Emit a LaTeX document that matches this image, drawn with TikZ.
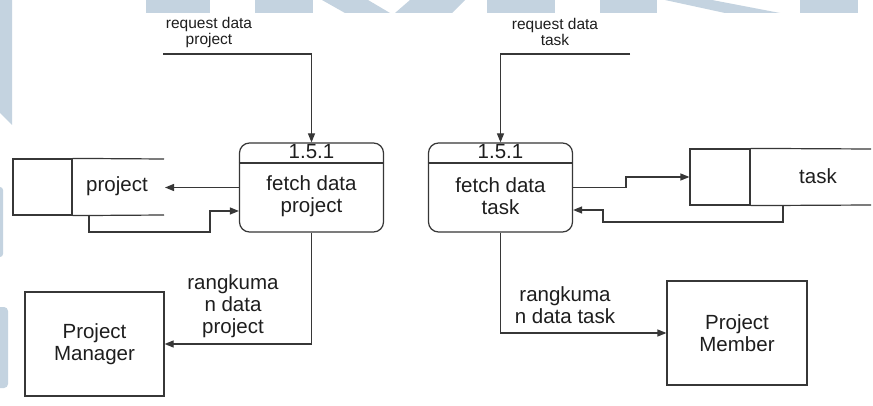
\documentclass[tikz,border=0pt]{standalone}
\usepackage{fontspec}
\setmainfont{Liberation Sans}
\usetikzlibrary{arrows.meta}
\definecolor{wm}{RGB}{196,211,224}
\definecolor{ln}{RGB}{55,55,55}
\definecolor{tx}{RGB}{30,30,30}
\tikzset{
  ln/.style={draw=ln, line width=1.2pt},
  arr/.style={ln, -{Triangle[length=9pt,width=7pt]}},
  proc/.style={ln, rectangle, rounded corners=10pt, minimum width=144pt, minimum height=89pt, inner sep=0pt},
  ext/.style={ln, rectangle, inner sep=0pt},
  lab/.style={text=tx, align=center, inner sep=0pt, font=\fontsize{20.5}{22}\selectfont},
  small/.style={text=tx, align=center, inner sep=0pt, font=\fontsize{15.5}{16}\selectfont},
  wmark/.style={fill=wm, draw=none}
}
\begin{document}
\begin{tikzpicture}[x=1pt,y=-1pt]
\useasboundingbox (0,0) rectangle (873,406);
\fill[white] (0,0) rectangle (873,406);
% watermark
\fill[wmark] (0,0) -- (12,0) -- (12,125) -- (0,113) -- cycle;
\fill[wmark, rounded corners=3pt] (-5,187) rectangle (3,257);
\fill[wmark, rounded corners=4pt] (-5,307) rectangle (8,388);
\fill[wmark] (146,0) rectangle (210,13);
\fill[wmark] (255,0) rectangle (313,13);
\fill[wmark] (322,0) -- (368,0) -- (390,13) -- (345,13) -- cycle;
\fill[wmark] (410,0) -- (465,0) -- (452,13) -- (395,13) -- cycle;
\fill[wmark] (487,0) rectangle (555,13);
\fill[wmark] (600,0) rectangle (657,13);
\fill[wmark] (665,0) -- (712,0) -- (780,13) -- (725,13) -- cycle;
\fill[wmark] (800,0) rectangle (858,13);

% processes
\node[proc] (p1) at (311.5,187.5) {};
\node[proc] (p2) at (500.5,187.5) {};
\draw[ln] (p1.west |- 0,163) -- (p1.east |- 0,163);
\draw[ln] (p2.west |- 0,163) -- (p2.east |- 0,163);
\node[lab] (p1n) at (311.5,152) {1.5.1};
\node[lab] (p2n) at (500.5,152) {1.5.1};
\node[lab] (p1t) at (311.5,196) {fetch data\\project};
\node[lab] (p2t) at (500.5,196) {fetch data\\task};

% data stores
\node[ext, minimum width=59pt, minimum height=56pt] (ps) at (42.5,187) {};
\draw[ln] (ps.north east) -- (164,159);
\draw[ln] (ps.south east) -- (164,215);
\node[lab] (psl) at (117,186) {project};
\node[ext, minimum width=60pt, minimum height=56pt] (ts) at (720,177) {};
\draw[ln] (ts.north east) -- (871,149);
\draw[ln] (ts.south east) -- (871,205);
\node[lab] (tsl) at (818,176) {task};

% external entities
\node[ext, minimum width=139pt, minimum height=104pt, lab] (pm) at (94.5,344) {Project\\Manager};
\node[ext, minimum width=140pt, minimum height=104pt, lab] (pmem) at (737,333) {Project\\Member};

% request flows
\coordinate (rq1) at (163,54);
\coordinate (rq2) at (630,54);
\draw[arr] (rq1) -- (p1.north |- rq1) -- (p1.north);
\draw[arr] (rq2) -- (p2.north |- rq2) -- (p2.north);
\node[small] (rq1l) at (209,32) {request data\\project};
\node[small] (rq2l) at (555,32) {request data\\task};

% store flows
\coordinate (psin) at (165,187.5);
\draw[arr] (p1.west) -- (psin);
\coordinate (psout) at (89,215);
\draw[arr] (psout) -- (89,232) -- (210,232) -- (210,211) -- (p1.west |- 0,211);
\draw[arr] (p2.east) -- (626,187.5) -- (626,177) -- (ts.west);
\coordinate (tsout) at (783,205);
\draw[arr] (tsout) -- (783,222) -- (603,222) -- (603,210) -- (p2.east |- 0,210);

% output flows
\draw[arr] (p1.south) -- (p1.south |- pm.east) -- (pm.east);
\draw[arr] (p2.south) -- (p2.south |- pmem.west) -- (pmem.west);
\node[lab] (o1l) at (233,306) {rangkuma\\n data\\project};
\node[lab] (o2l) at (565,305) {rangkuma\\n data task};
\end{tikzpicture}
\end{document}
